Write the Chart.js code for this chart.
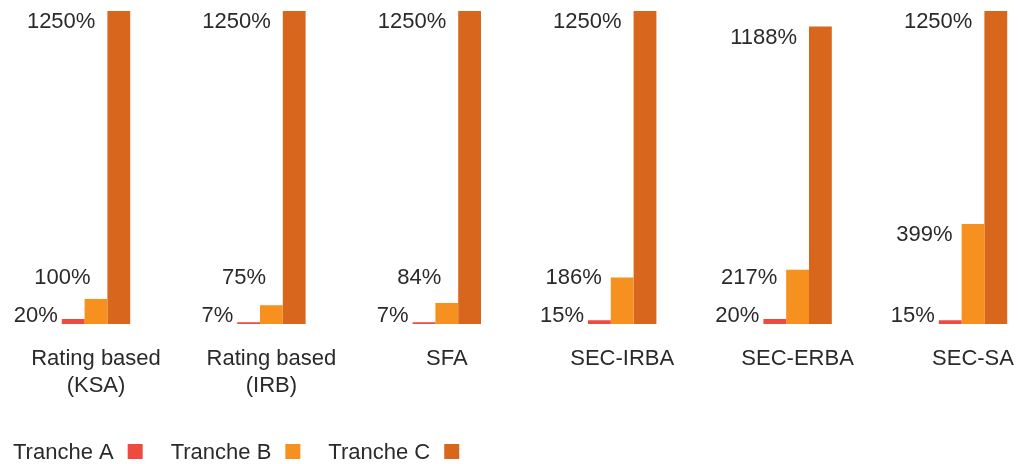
<!DOCTYPE html>
<html>
<head>
<meta charset="utf-8">
<script src="https://cdn.jsdelivr.net/npm/chart.js@4"></script>
<style>
  html, body { margin: 0; padding: 0; background: #fff; }
  #wrap { width: 1020px; height: 464px; }
</style>
</head>
<body>
<div id="wrap"><canvas id="riskChart" width="1020" height="464"></canvas></div>
<script>
// chart data
const categories = [
  ["Rating based", "(KSA)"], ["Rating based", "(IRB)"], "SFA",
  "SEC-IRBA", "SEC-ERBA", "SEC-SA"
];
const seriesNames = ["Tranche A", "Tranche B", "Tranche C"];
const trancheA = [20, 7, 7, 15, 20, 15];
const trancheB = [100, 75, 84, 186, 217, 399];
const trancheC = [1250, 1250, 1250, 1250, 1188, 1250];
const seriesColors = ["#EE4B3E", "#F6901F", "#D8661D"];

const textColor = "#2a2a2a";
const fontFamily = "'Liberation Sans', Arial, Helvetica, sans-serif";

// value labels sit to the left of each bar, pushed up so they don't collide
const valueLabels = {
  id: "valueLabels",
  afterDatasetsDraw(chart) {
    const ctx = chart.ctx;
    ctx.save();
    ctx.font = "22px " + fontFamily;
    ctx.fillStyle = textColor;
    ctx.textAlign = "right";
    ctx.textBaseline = "middle";
    const metas = [0, 1, 2].map(d => chart.getDatasetMeta(d));
    categories.forEach((c, i) => {
      const red = metas[0].data[i];
      const orange = metas[1].data[i];
      const dark = metas[2].data[i];
      const w = red.width;

      // Tranche A: at the baseline, left of the red bar
      const yA = red.base - 8;
      ctx.fillText(trancheA[i] + "%", red.x - w / 2 - 4, yA);

      // Tranche B: beside its bar, or above it when the bar is short
      const yB = Math.min(orange.y + 11, yA - 38);
      let xB = orange.x - w / 2 - 9;
      if (orange.y > yB + 12) {
        xB = orange.x - w / 2 + 6;
      }
      ctx.fillText(trancheB[i] + "%", xB, yB);

      // Tranche C
      const yC = Math.min(dark.y + 11, yB - 38);
      ctx.fillText(trancheC[i] + "%", dark.x - w / 2 - 12, yC);
    });
    ctx.restore();
  }
};

// legend: name first, colour square after it
const boxLegend = {
  id: "boxLegend",
  afterDraw(chart) {
    const ctx = chart.ctx;
    ctx.save();
    ctx.font = "22px " + fontFamily;
    ctx.textAlign = "left";
    ctx.textBaseline = "alphabetic";
    let x = 13;
    const baseY = 459;
    chart.data.datasets.forEach(ds => {
      ctx.fillStyle = textColor;
      ctx.fillText(ds.label, x, baseY);
      x += ctx.measureText(ds.label).width + 14;
      ctx.fillStyle = ds.backgroundColor;
      ctx.fillRect(x, 444, 15, 15);
      x += 15 + 28;
    });
    ctx.restore();
  }
};

const ctx = document.getElementById("riskChart").getContext("2d");
const riskChart = new Chart(ctx, {
  type: "bar",
  data: {
    labels: categories,
    datasets: [
      { label: seriesNames[0], data: trancheA, backgroundColor: seriesColors[0] },
      { label: seriesNames[1], data: trancheB, backgroundColor: seriesColors[1] },
      { label: seriesNames[2], data: trancheC, backgroundColor: seriesColors[2] }
    ]
  },
  options: {
    responsive: false,
    animation: false,
    layout: {
      padding: { left: 96, right: 47, top: 11, bottom: 51 }
    },
    datasets: {
      bar: { categoryPercentage: 0.39, barPercentage: 1.0, borderWidth: 0, clip: false }
    },
    scales: {
      x: {
        offset: false,
        grid: { display: false },
        border: { display: false },
        ticks: {
          color: textColor,
          padding: 13,
          maxRotation: 0,
          autoSkip: false,
          font: { family: fontFamily, size: 22, lineHeight: 1.25 }
        },
        afterFit(scale) {
          // labels may hang past the plot edges, keep the plot where it is
          scale.paddingLeft = 0;
          scale.paddingRight = 0;
        }
      },
      y: {
        display: false,
        min: 0,
        max: 1250
      }
    },
    plugins: {
      legend: { display: false },
      tooltip: { enabled: true }
    }
  },
  plugins: [valueLabels, boxLegend]
});
</script>
</body>
</html>
